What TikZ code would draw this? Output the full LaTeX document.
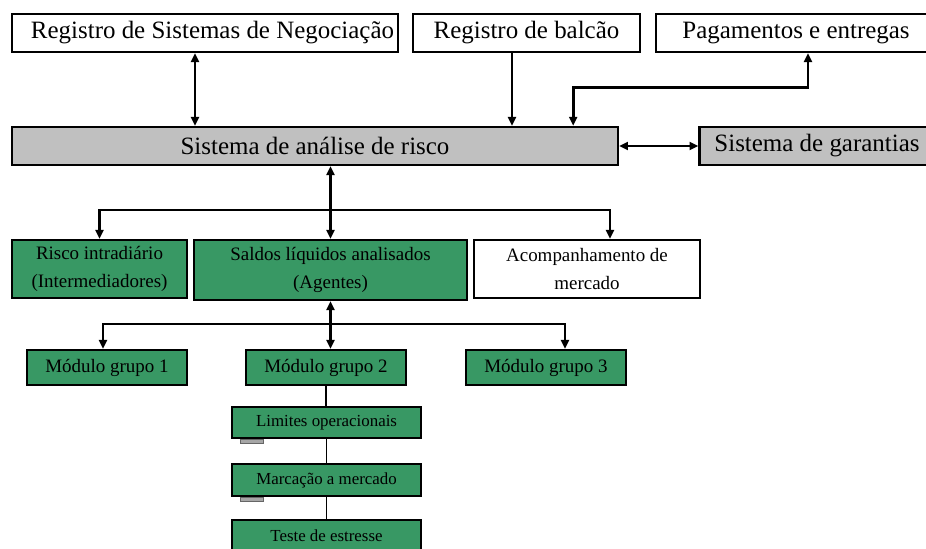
\documentclass[tikz,border=0pt]{standalone}
\usepackage{fontspec}
\setmainfont{Liberation Serif}
\usepackage{tikz}
\usetikzlibrary{
        arrows.meta,
        positioning,
        shapes
    }
\definecolor{riskgreen}{RGB}{56,152,100}
\definecolor{riskgrey}{RGB}{192,192,192}
\tikzset{>={Triangle[length=5pt,width=4.5pt]}}
\tikzset{
        sysbox/.style={draw,rectangle,inner sep=0pt,line width=1.4pt,font=\fontsize{14.2}{16}\selectfont},
        topbox/.style={sysbox,fill=white},
        greybox/.style={sysbox,fill=riskgrey},
        greenbox/.style={draw,rectangle,inner sep=0pt,line width=1.4pt,fill=riskgreen,align=center,font=\fontsize{10.8}{16}\selectfont},
        whitebox/.style={greenbox,fill=white},
        smallgreen/.style={greenbox,minimum width=3.78cm,font=\fontsize{9.6}{11}\selectfont},
        tabmark/.style={fill=gray!70,draw=black!60,line width=0.4pt}
    }

\begin{document}
\begin{tikzpicture}[x=0.02cm,y=-0.02cm,line width=1.5pt]
\clip (0,0) rectangle (926,548);
\fill[white] (0,0) rectangle (926,548);
			\node[topbox,minimum width=7.72cm,minimum height=0.76cm] (rsn) at (205,33) {\hspace{0.3cm}Registro de Sistemas de Negociação};
			\node[topbox,minimum width=4.54cm,minimum height=0.76cm] (balcao) at (526.5,33) {Registro de balcão};
			\node[topbox,minimum width=5.6cm,minimum height=0.76cm] (pag) at (796,33) {Pagamentos e entregas};
			\node[greybox,minimum width=12.12cm,minimum height=0.76cm] (sar) at (315,146) {Sistema de análise de risco};
			\node[greybox,minimum width=4.7cm,minimum height=0.76cm] (gar) at (817,146) {Sistema de garantias};
			\node[greenbox,minimum width=3.5cm,minimum height=1.16cm] (risco) at (99.5,269) {Risco intradiário\\(Intermediadores)};
			\node[greenbox,minimum width=5.46cm,minimum height=1.2cm] (saldos) at (330.5,270) {Saldos líquidos analisados\\(Agentes)};
			\node[whitebox,minimum width=4.52cm,minimum height=1.16cm] (acomp) at (587,269) {Acompanhamento de\\mercado};
			\node[greenbox,minimum width=3.2cm,minimum height=0.7cm] (m1) at (107,367.5) {Módulo grupo 1};
			\node[greenbox,minimum width=3.2cm,minimum height=0.7cm] (m2) at (326,367.5) {Módulo grupo 2};
			\node[greenbox,minimum width=3.2cm,minimum height=0.7cm] (m3) at (546,367.5) {Módulo grupo 3};
			\node[smallgreen,minimum height=0.62cm] (lim) at (326.5,422.5) {Limites operacionais};
			\node[smallgreen,minimum height=0.64cm] (marc) at (326.5,480) {Marcação a mercado};
			\node[smallgreen,minimum height=0.64cm] (teste) at (326.5,536) {Teste de estresse};
			\draw[tabmark] ([xshift=0.2cm]lim.south west) rectangle ++(23,4);
			\draw[tabmark] ([xshift=0.2cm]marc.south west) rectangle ++(23,4);
			\coordinate (split1) at (330,210);
			\coordinate (split2) at (330,324);
		\path[<->]
				([xshift=-0.2cm]rsn.south)  edge  ([xshift=-0.2cm]rsn.south |- sar.north)
				(sar.east)  edge  (gar.west)
				(saldos.north |- sar.south)  edge  (saldos.north)
				(saldos.south)  edge  (saldos.south |- m2.north)
				;
		\draw[->] ([xshift=-0.29cm]balcao.south) -- ([xshift=-0.29cm]balcao.south |- sar.north);
		\draw[<->] ([xshift=-0.92cm]sar.north east) -- ++(0,-38) -| ([xshift=0.24cm]pag.south);
		\draw[->] (split1) -| (risco.north);
		\draw[->] (split1) -| ([xshift=0.46cm]acomp.north);
		\draw[->] (split2) -| ([xshift=-0.08cm]m1.north);
		\draw[->] (split2) -| ([xshift=0.38cm]m3.north);
		\draw[line width=0.9pt] (m2.south) -- (m2.south |- lim.north)
				(lim.south) -- (marc.north)
				(marc.south) -- (teste.north);
\end{tikzpicture}
\end{document}
